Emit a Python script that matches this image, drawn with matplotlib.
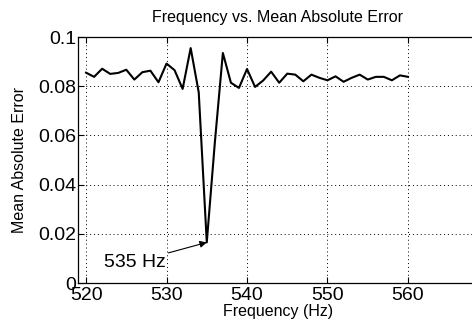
import matplotlib
matplotlib.use("Agg")
import matplotlib.pyplot as plt

plt.rcParams['font.family'] = ['Liberation Sans', 'DejaVu Sans']

freq = list(range(520, 561))
mae = [0.0855, 0.0838, 0.0871, 0.0850, 0.0854, 0.0867, 0.0827, 0.0857, 0.0863, 0.0816,
       0.0892, 0.0865, 0.0789, 0.0955, 0.0775, 0.0165, 0.0570, 0.0935, 0.0814, 0.0793,
       0.0870, 0.0797, 0.0823, 0.0859, 0.0814, 0.0851, 0.0847, 0.0820, 0.0847, 0.0834,
       0.0824, 0.0840, 0.0818, 0.0834, 0.0847, 0.0827, 0.0838, 0.0838, 0.0824, 0.0844,
       0.0838]
xticks = [520, 530, 540, 550, 560]
yticks = [0, 0.02, 0.04, 0.06, 0.08, 0.1]
ylabels = ["0", "0.02", "0.04", "0.06", "0.08", "0.1"]

W, H = 472, 329
fig = plt.figure(figsize=(W / 100, H / 100), dpi=100)
ax = fig.add_axes([78 / W, 1 - 283 / H, (478 - 78) / W, (283 - 37) / H])

ax.plot(freq, mae, color='black', lw=1.5)
ax.set_xlim(519.0, 568.7)
ax.set_ylim(0, 0.1)
ax.set_xticks(xticks)
ax.set_yticks(yticks)
ax.set_yticklabels(ylabels)
ax.tick_params(direction='in', labelsize=14, length=4, width=0.8, top=True, right=True)
ax.tick_params(axis='x', pad=3)
ax.tick_params(axis='y', pad=1)
ax.grid(True, linestyle=(0, (1, 3)), color='black', lw=0.7)
for s in ax.spines.values():
    s.set_linewidth(0.9)

ax.set_title("Frequency vs. Mean Absolute Error", fontsize=11.5, pad=11)
ax.set_xlabel("Frequency (Hz)", fontsize=11.5, labelpad=0)
ax.set_ylabel("Mean Absolute Error", fontsize=11.5, labelpad=8)

ax.annotate("535 Hz", xy=(535, mae[15]), xytext=(529.9, 0.0085),
            fontsize=14, ha='right', va='center',
            arrowprops=dict(arrowstyle='-|>', color='black', lw=0.8,
                            mutation_scale=10, shrinkA=0, shrinkB=0))

fig.savefig("out.png", dpi=100)
